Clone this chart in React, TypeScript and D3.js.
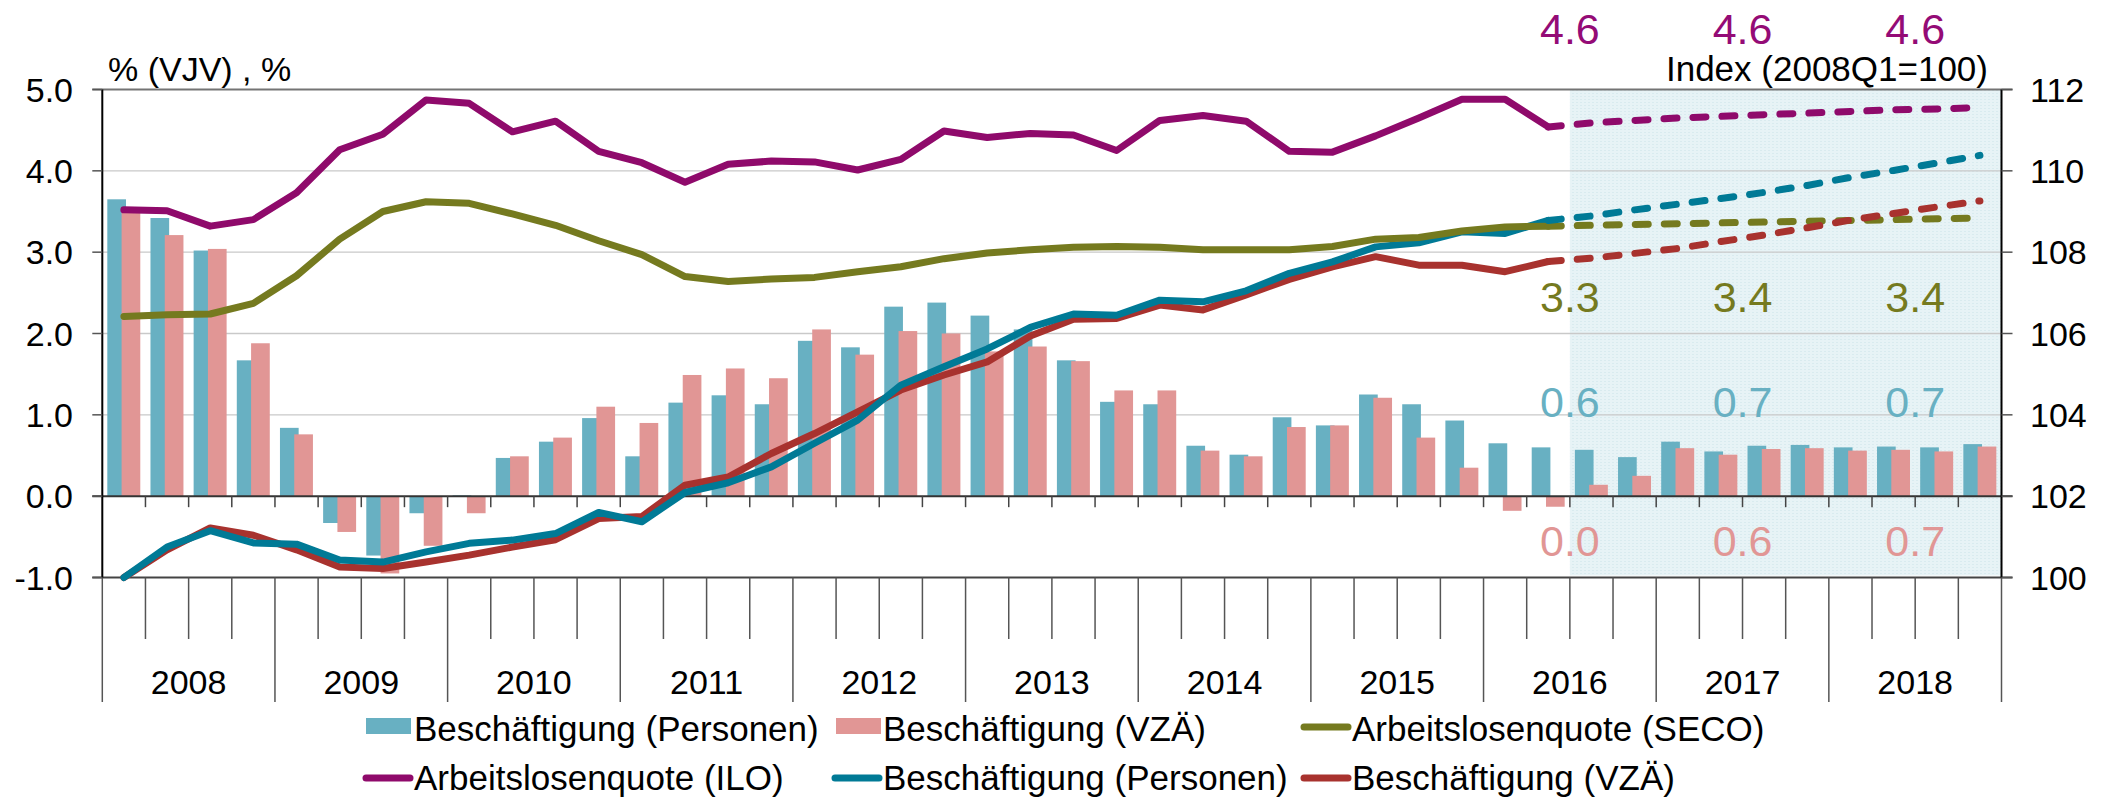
import React from 'react';
import * as d3 from 'd3';

const years = ['2008', '2009', '2010', '2011', '2012', '2013', '2014', '2015', '2016', '2017', '2018'];
const quarterNames = ['Q1', 'Q2', 'Q3', 'Q4'];

// Bars: growth in % (VJV), left axis
const barPersonen = [
  3.65, 3.42, 3.02, 1.67,
  0.84, -0.33, -0.73, -0.21,
  0.01, 0.47, 0.67, 0.96,
  0.49, 1.15, 1.24, 1.13,
  1.91, 1.83, 2.33, 2.38,
  2.22, 2.05, 1.67, 1.16,
  1.13, 0.62, 0.51, 0.97,
  0.87, 1.25, 1.13, 0.93,
  0.65, 0.60, 0.57, 0.48,
  0.67, 0.55, 0.62, 0.63,
  0.60, 0.61, 0.60, 0.64,
];
const barVZA = [
  3.55, 3.21, 3.04, 1.88,
  0.76, -0.44, -0.95, -0.61,
  -0.21, 0.49, 0.72, 1.10,
  0.90, 1.49, 1.57, 1.45,
  2.05, 1.74, 2.03, 2.00,
  1.78, 1.84, 1.66, 1.30,
  1.30, 0.56, 0.49, 0.85,
  0.87, 1.21, 0.72, 0.35,
  -0.18, -0.13, 0.14, 0.25,
  0.59, 0.51, 0.58, 0.59,
  0.56, 0.57, 0.55, 0.61,
];

// Lines, left axis (%) – actual 2008Q1..2016Q2
const iloActual = [
  3.52, 3.51, 3.32, 3.40,
  3.73, 4.26, 4.45, 4.87,
  4.83, 4.48, 4.61, 4.24,
  4.10, 3.86, 4.08, 4.12,
  4.11, 4.01, 4.14, 4.49,
  4.41, 4.46, 4.44, 4.25,
  4.62, 4.68, 4.61, 4.24,
  4.23, 4.43, 4.65, 4.88,
  4.88, 4.54,
];
// forecast 2016Q2..2018Q4
const iloForecast = [4.54, 4.59, 4.62, 4.65, 4.67, 4.69, 4.71, 4.73, 4.75, 4.76, 4.78];

const secoActual = [
  2.21, 2.23, 2.24, 2.37,
  2.71, 3.16, 3.50, 3.62,
  3.60, 3.47, 3.33, 3.14,
  2.97, 2.70, 2.64, 2.67,
  2.69, 2.76, 2.82, 2.92,
  2.99, 3.03, 3.06, 3.07,
  3.06, 3.03, 3.03, 3.03,
  3.07, 3.16, 3.18, 3.26,
  3.31, 3.32,
];
const secoForecast = [3.32, 3.33, 3.34, 3.35, 3.36, 3.37, 3.38, 3.39, 3.40, 3.41, 3.42];

// Lines, right axis (Index 2008Q1=100)
const personenActual = [
  100.0, 100.75, 101.15, 100.85,
  100.82, 100.43, 100.38, 100.63,
  100.84, 100.92, 101.08, 101.60,
  101.37, 102.09, 102.33, 102.72,
  103.30, 103.87, 104.73, 105.18,
  105.62, 106.15, 106.48, 106.45,
  106.82, 106.78, 107.05, 107.48,
  107.76, 108.13, 108.23, 108.50,
  108.46, 108.78,
];
const personenForecast = [108.78, 108.89, 109.04, 109.18, 109.32, 109.47, 109.64, 109.84, 110.01, 110.19, 110.38];

const vzaActual = [
  100.0, 100.68, 101.22, 101.04,
  100.68, 100.26, 100.22, 100.38,
  100.55, 100.75, 100.93, 101.45,
  101.50, 102.27, 102.47, 103.05,
  103.54, 104.07, 104.61, 104.98,
  105.30, 105.94, 106.35, 106.37,
  106.70, 106.58, 106.95, 107.33,
  107.64, 107.89, 107.68, 107.68,
  107.52, 107.77,
];
const vzaForecast = [107.77, 107.85, 107.97, 108.09, 108.26, 108.42, 108.60, 108.79, 108.95, 109.11, 109.26];

// Annual averages shown in the forecast area (2016, 2017, 2018)
const annualYears = ['2016', '2017', '2018'];
const annualILO = ['4.6', '4.6', '4.6'];
const annualSECO = ['3.3', '3.4', '3.4'];
const annualPersonen = ['0.6', '0.7', '0.7'];
const annualVZA = ['0.0', '0.6', '0.7'];

const leftTicks = [-1, 0, 1, 2, 3, 4, 5];
const rightTicks = [100, 102, 104, 106, 108, 110, 112];

const C = {
  barTeal: '#68B0C2',
  barPink: '#E19695',
  teal: '#007A96',
  red: '#A8322E',
  purple: '#8F0A6B',
  purpleText: '#940B76',
  olive: '#757A1F',
};

const FONT = '"Liberation Sans", Arial, Helvetica, sans-serif';

export default function App() {
  const W = 2114;
  const H = 802;
  const left = 102.3;
  const right = 2001.5;
  const top = 89.5;
  const bottom = 577.5;

  const quarters = years.flatMap((y) => quarterNames.map((q) => y + q));
  const x = d3.scaleBand<string>().domain(quarters).range([left, right]).padding(0);
  const bw = x.bandwidth();
  const cx = (i: number) => (x(quarters[i]) as number) + bw / 2;
  const yL = d3.scaleLinear().domain([-1, 5]).range([bottom, top]);
  const yR = d3.scaleLinear().domain([100, 112]).range([bottom, top]);

  const forecastStart = 33; // 2016Q2
  const shadeStartIdx = 34; // 2016Q3

  const lineGen = (scale: d3.ScaleLinear<number, number>, offset: number) =>
    d3
      .line<number>()
      .x((_, i) => cx(i + offset))
      .y((d) => scale(d));

  const barW = bw * 0.433;
  const tealOff = bw * 0.116;
  const pinkOff = bw * 0.447;

  const yearCenter = (yr: string) => {
    const i = quarters.indexOf(yr + 'Q1');
    return (x(quarters[i]) as number) + bw * 2;
  };

  const boundaries = d3.range(0, quarters.length + 1).map((i) => left + i * bw);

  const lineW = 7;
  const dash = '13 16';

  return (
    <svg
      width={W}
      height={H}
      style={{ position: 'absolute', left: 0, top: 0, background: '#fff' }}
      fontFamily={FONT}
    >
      <defs>
        <pattern id="shadeTex" width="4" height="3" patternUnits="userSpaceOnUse">
          <rect width="4" height="3" fill="#e7f3f6" />
          <rect x="0" y="0" width="2" height="1" fill="#d9ebef" />
        </pattern>
      </defs>

      {/* forecast shading */}
      <rect
        x={x(quarters[shadeStartIdx]) as number}
        y={top}
        width={right - (x(quarters[shadeStartIdx]) as number)}
        height={bottom - top - 2}
        fill="url(#shadeTex)"
      />

      {/* gridlines */}
      {[1, 2, 3, 4].map((v) => (
        <line key={'g' + v} x1={left} x2={right} y1={yL(v)} y2={yL(v)} stroke="#c9c9c9" strokeWidth={1.3} />
      ))}
      <line x1={left - 10} x2={right + 11} y1={yL(5)} y2={yL(5)} stroke="#747474" strokeWidth={2} />

      {/* bars */}
      {barPersonen.map((v, i) => (
        <rect
          key={'bp' + i}
          x={(x(quarters[i]) as number) + tealOff}
          y={Math.min(yL(v), yL(0))}
          width={barW}
          height={Math.abs(yL(v) - yL(0))}
          fill={C.barTeal}
        />
      ))}
      {barVZA.map((v, i) => (
        <rect
          key={'bv' + i}
          x={(x(quarters[i]) as number) + pinkOff}
          y={Math.min(yL(v), yL(0))}
          width={barW}
          height={Math.abs(yL(v) - yL(0))}
          fill={C.barPink}
        />
      ))}

      {/* zero line and quarter ticks */}
      <line x1={left - 10} x2={right + 11} y1={yL(0)} y2={yL(0)} stroke="#333" strokeWidth={2} />
      {boundaries.slice(1, -1).map((bx, i) => (
        <line key={'zt' + i} x1={bx} x2={bx} y1={yL(0)} y2={yL(0) + 11} stroke="#444" strokeWidth={1.5} />
      ))}

      {/* bottom line */}
      <line x1={left - 10} x2={right + 11} y1={bottom} y2={bottom} stroke="#444" strokeWidth={2} />

      {/* category axis lines */}
      {boundaries.map((bx, i) => (
        <line
          key={'bt' + i}
          x1={bx}
          x2={bx}
          y1={bottom}
          y2={i % 4 === 0 ? 702 : 639}
          stroke="#555"
          strokeWidth={1.5}
        />
      ))}
      {years.map((yr) => (
        <text key={'yl' + yr} x={yearCenter(yr)} y={694} textAnchor="middle" fontSize={34} fill="#000">
          {yr}
        </text>
      ))}

      {/* axes */}
      <line x1={left} x2={left} y1={top} y2={bottom} stroke="#000" strokeWidth={2} />
      <line x1={right} x2={right} y1={top} y2={bottom} stroke="#000" strokeWidth={2} />
      {leftTicks.map((t) => (
        <g key={'lt' + t}>
          <line x1={left - 10} x2={left} y1={yL(t)} y2={yL(t)} stroke="#555" strokeWidth={1.5} />
          <text x={73} y={yL(t)} dy="0.36em" textAnchor="end" fontSize={34} fill="#000">
            {t.toFixed(1)}
          </text>
        </g>
      ))}
      {rightTicks.map((t) => (
        <g key={'rt' + t}>
          <line x1={right} x2={right + 11} y1={yR(t)} y2={yR(t)} stroke="#555" strokeWidth={1.5} />
          <text x={2030} y={yR(t)} dy="0.36em" textAnchor="start" fontSize={34} fill="#000">
            {t}
          </text>
        </g>
      ))}
      <text x={108} y={81} fontSize={34} fill="#000">
        % (VJV) , %
      </text>
      <text x={1988} y={81} fontSize={35} textAnchor="end" fill="#000">
        Index (2008Q1=100)
      </text>

      {/* solid lines */}
      <g fill="none" strokeWidth={lineW} strokeLinejoin="round" strokeLinecap="round">
        <path d={lineGen(yR, 0)(vzaActual) as string} stroke={C.red} />
        <path d={lineGen(yR, 0)(personenActual) as string} stroke={C.teal} />
        <path d={lineGen(yL, 0)(secoActual) as string} stroke={C.olive} />
        <path d={lineGen(yL, 0)(iloActual) as string} stroke={C.purple} />
      </g>
      {/* forecast dashed lines */}
      <g fill="none" strokeWidth={lineW} strokeLinejoin="round" strokeLinecap="round" strokeDasharray={dash}>
        <path d={lineGen(yL, forecastStart)(secoForecast) as string} stroke={C.olive} />
        <path d={lineGen(yL, forecastStart)(iloForecast) as string} stroke={C.purple} />
        <path d={lineGen(yR, forecastStart)(vzaForecast) as string} stroke={C.red} />
        <path d={lineGen(yR, forecastStart)(personenForecast) as string} stroke={C.teal} />
      </g>

      {/* annual averages */}
      {annualYears.map((yr, k) => (
        <g key={'an' + yr} fontSize={43} textAnchor="middle">
          <text x={yearCenter(yr)} y={44} fill={C.purpleText}>{annualILO[k]}</text>
          <text x={yearCenter(yr)} y={312} fill={C.olive}>{annualSECO[k]}</text>
          <text x={yearCenter(yr)} y={417} fill={C.barTeal}>{annualPersonen[k]}</text>
          <text x={yearCenter(yr)} y={556} fill={C.barPink}>{annualVZA[k]}</text>
        </g>
      ))}

      {/* legend */}
      <g fontSize={35} fill="#000">
        <rect x={366} y={718} width={45} height={16} fill={C.barTeal} />
        <text x={414} y={741}>Beschäftigung (Personen)</text>
        <rect x={836} y={718} width={45} height={16} fill={C.barPink} />
        <text x={883} y={741}>Beschäftigung (VZÄ)</text>
        <line x1={1304} x2={1348} y1={727} y2={727} stroke={C.olive} strokeWidth={7} strokeLinecap="round" />
        <text x={1352} y={741}>Arbeitslosenquote (SECO)</text>

        <line x1={366} x2={410} y1={778} y2={778} stroke={C.purple} strokeWidth={7} strokeLinecap="round" />
        <text x={414} y={790}>Arbeitslosenquote (ILO)</text>
        <line x1={835} x2={879} y1={778} y2={778} stroke={C.teal} strokeWidth={7} strokeLinecap="round" />
        <text x={883} y={790}>Beschäftigung (Personen)</text>
        <line x1={1304} x2={1348} y1={778} y2={778} stroke={C.red} strokeWidth={7} strokeLinecap="round" />
        <text x={1352} y={790}>Beschäftigung (VZÄ)</text>
      </g>
    </svg>
  );
}
